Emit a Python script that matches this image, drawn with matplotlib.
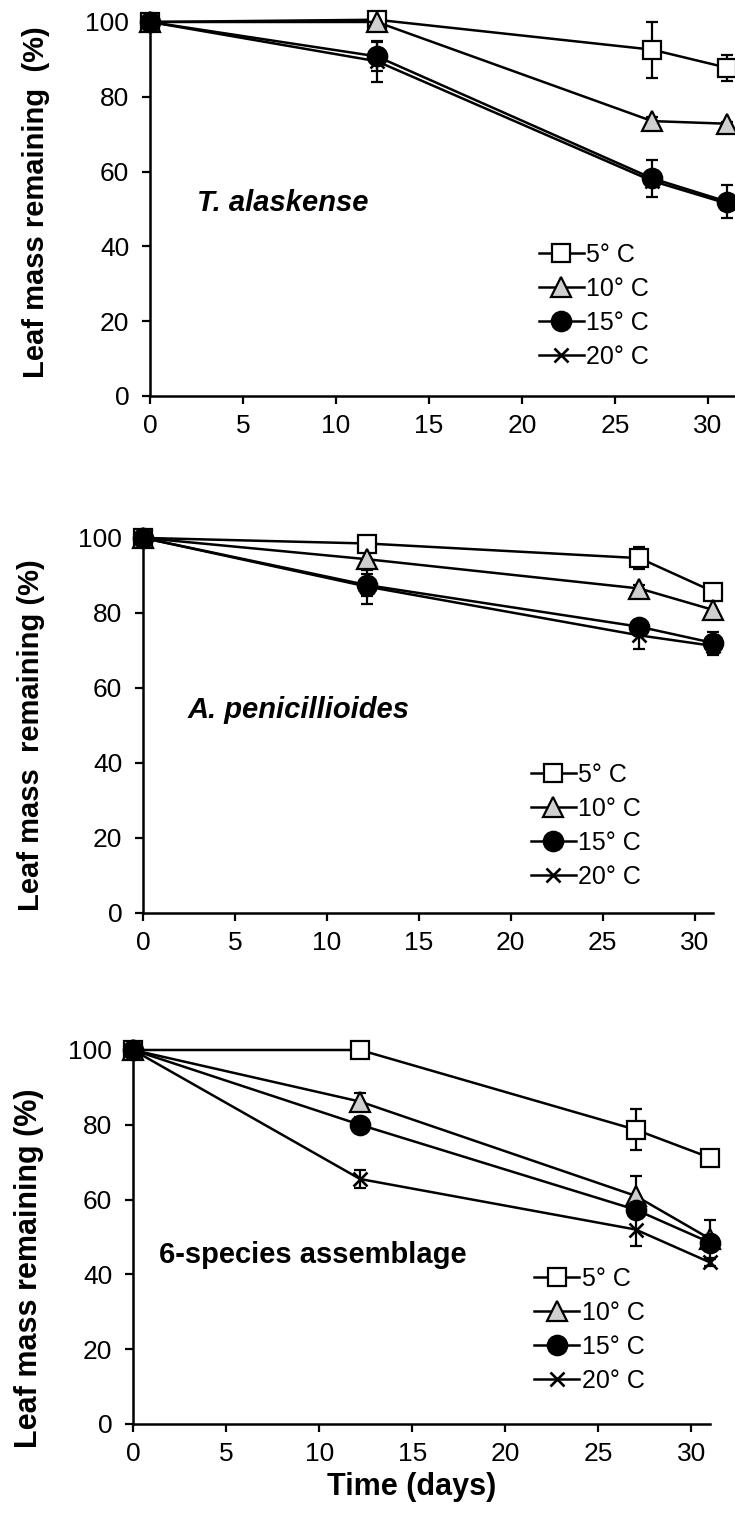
import matplotlib.pyplot as plt

plt.rcParams['font.family'] = ['Liberation Sans', 'DejaVu Sans']

#Sampling days
days = [0, 12.2, 27, 31]
temps = ["5° C", "10° C", "15° C", "20° C"]

#T. alaskense - mean and error
ta_5 = [100, 100.6, 92.6, 87.8]
ta_5_err = [0, 0.6, 7.5, 3.5]
ta_10 = [100, 100, 73.5, 72.8]
ta_10_err = [0, 0, 1, 0.5]
ta_15 = [100, 90.8, 58.2, 52]
ta_15_err = [0, 3.8, 5, 4.5]
ta_20 = [100, 89.5, 57.5, 51.5]
ta_20_err = [0, 5.5, 1, 1]

#A. penicillioides
ap_5 = [100, 98.5, 94.6, 85.7]
ap_5_err = [0, 0.6, 3, 0.5]
ap_10 = [100, 94.3, 86.5, 80.8]
ap_10_err = [0, 2.5, 1, 2.5]
ap_15 = [100, 87.4, 76.3, 72]
ap_15_err = [0, 3, 1, 3]
ap_20 = [100, 87, 74, 71.2]
ap_20_err = [0, 4.5, 3.5, 2.5]

#6-species assemblage
sp_5 = [100, 100, 78.7, 71.2]
sp_5_err = [0, 0.5, 5.5, 1]
sp_10 = [100, 86.2, 61, 49.5]
sp_10_err = [0, 2.3, 5.2, 5]
sp_15 = [100, 80, 57.3, 48.5]
sp_15_err = [0, 2, 2, 2]
sp_20 = [100, 65.5, 52, 43.2]
sp_20_err = [0, 2.5, 4.5, 1]

panels = [
    ("T. alaskense", [ta_5, ta_10, ta_15, ta_20], [ta_5_err, ta_10_err, ta_15_err, ta_20_err]),
    ("A. penicillioides", [ap_5, ap_10, ap_15, ap_20], [ap_5_err, ap_10_err, ap_15_err, ap_20_err]),
    ("6-species assemblage", [sp_5, sp_10, sp_15, sp_20], [sp_5_err, sp_10_err, sp_15_err, sp_20_err]),
]

#marker styles: square, grey triangle, black circle, cross
styles = [
    dict(marker='s', ms=13, mfc='white', mec='black', mew=1.6),
    dict(marker='^', ms=14, mfc='#cfcfcf', mec='black', mew=1.6),
    dict(marker='o', ms=14, mfc='black', mec='black', mew=1.6),
    dict(marker='x', ms=10, mfc='black', mec='black', mew=1.9),
]

# axes rects in figure fractions
rects = [[0.2041, 0.7388, 0.797, 0.2467],
         [0.1946, 0.3978, 0.7755, 0.2474],
         [0.1810, 0.0607, 0.7850, 0.2467]]
xmax = [31.5, 31, 31]
ylabels = ["Leaf mass remaining  (%)", "Leaf mass  remaining (%)", "Leaf mass remaining (%)"]
ylab_pos = [(-0.17, 0.519), (-0.172, 0.475), (-0.154, 0.417)]
ylab_size = [21, 21, 22]
title_pos = [(2.5, 51.7), (2.4, 54), (1.4, 45.3)]
leg_pos = [(0.664, 0.41), (0.68, 0.40), (0.695, 0.42)]

fig = plt.figure(figsize=(7.35, 15.16), dpi=100)

for i, (name, series, errs) in enumerate(panels):
    ax = fig.add_axes(rects[i])
    for k in range(4):
        ax.errorbar(days, series[k], yerr=errs[k], fmt='none', ecolor='black',
                    elinewidth=1.6, capsize=4.5, capthick=1.6, zorder=2, clip_on=False)
        ax.plot(days, series[k], color='black', lw=1.8, label=temps[k],
                zorder=3 + k, clip_on=False, **styles[k])

    ax.set_xlim(0, xmax[i])
    ax.set_ylim(0, 100)
    ax.set_xticks(range(0, 31, 5))
    ax.set_yticks(range(0, 101, 20))
    for s in ['top', 'right']:
        ax.spines[s].set_visible(False)
    for s in ['left', 'bottom']:
        ax.spines[s].set_linewidth(1.8)
    ax.tick_params(axis='y', direction='out', length=6, width=1.6, labelsize=19, pad=9)
    ax.tick_params(axis='x', direction='out', length=6, width=1.6, labelsize=19, pad=7)

    ax.set_ylabel(ylabels[i], fontsize=ylab_size[i], fontweight='bold')
    ax.yaxis.set_label_coords(*ylab_pos[i])

    style = 'italic' if i < 2 else 'normal'
    ax.text(title_pos[i][0], title_pos[i][1], name, fontsize=21, fontweight='bold',
            fontstyle=style, va='center', ha='left')

    ax.legend(loc='upper left', bbox_to_anchor=leg_pos[i], frameon=False, fontsize=18,
              handlelength=1.8, handletextpad=0.1, labelspacing=0.4, borderpad=0,
              borderaxespad=0)

    if i == 2:
        ax.set_xlabel("Time (days)", fontsize=22, fontweight='bold')
        ax.xaxis.set_label_coords(0.483, -0.128)

plt.savefig("out.png", dpi=100)
